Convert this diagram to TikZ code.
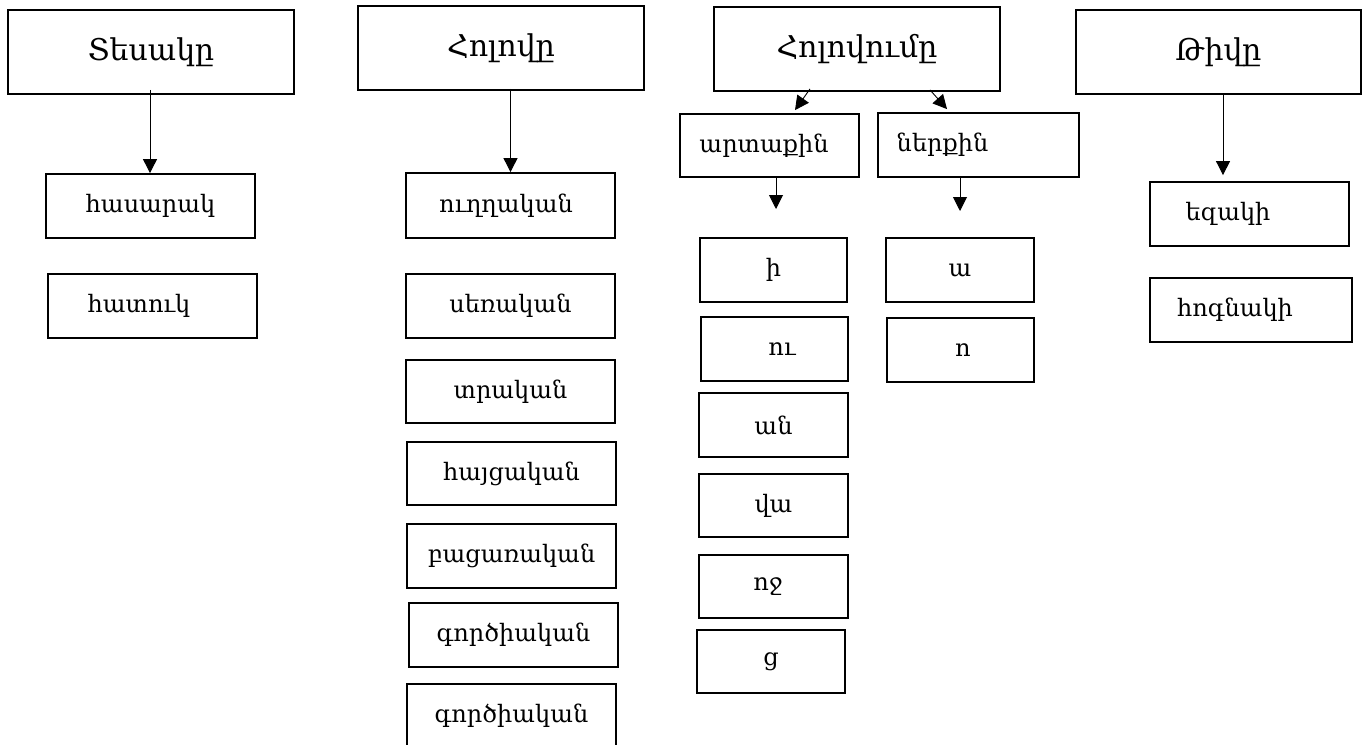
\documentclass[tikz,border=0pt]{standalone}
\usepackage{fontspec}
\setmainfont{DejaVu Serif}
\usetikzlibrary{arrows.meta}
\newcommand\mkbox[7][]{\node[box,#1,minimum width={#5pt-#3pt},minimum height={#6pt-#4pt}] (#2) at ({(#3+#5)/2},{(#4+#6)/2}) {#7};}
\tikzset{
  box/.style={draw, line width=1.8pt, inner sep=0pt, font=\fontsize{24}{26}\selectfont},
  title/.style={font=\fontsize{30}{32}\selectfont},
  arr/.style={line width=0.9pt, -{Triangle[width=14pt,length=14pt]}},
}
\begin{document}
\begin{tikzpicture}[x=1pt,y=-1pt]
\useasboundingbox (0,0) rectangle (1364,744);
\begin{scope}
\clip (0,0) rectangle (1364,744);
% titles
\mkbox[title]{t1}{8}{10}{294}{94}{Տեսակը}
\mkbox[title]{t2}{358}{6}{644}{90}{Հոլովը}
\mkbox[title]{t3}{714}{7}{1000}{91}{Հոլովումը}
\mkbox[title]{t4}{1076}{10}{1361}{94}{Թիվը}
% column 1
\mkbox{a1}{46}{174}{255}{238}{հասարակ}
\mkbox{a2}{48}{274}{257}{338}{հատուկ\hspace*{27pt}}
% column 2
\mkbox{b1}{406}{173}{615}{238}{ուղղական\hspace*{9pt}}
\mkbox{b2}{406}{274}{615}{338}{սեռական}
\mkbox{b3}{406}{360}{615}{423}{տրական}
\mkbox{b4}{407}{442}{616}{505}{հայցական}
\mkbox{b5}{407}{524}{616}{588}{բացառական}
\mkbox{b6}{409}{603}{618}{667}{գործիական}
\mkbox{b7}{407}{684}{616}{748}{\raisebox{3pt}{գործիական}}
% column 3
\mkbox{c1}{680}{114}{859}{177}{արտաքին\hspace*{11pt}}
\mkbox{c2}{878}{113}{1079}{177}{ներքին\hspace*{72pt}}
\mkbox{d1}{700}{238}{847}{302}{ի}
\mkbox{d2}{701}{317}{848}{381}{\hspace*{15pt}ու}
\mkbox{d3}{699}{393}{848}{457}{ան}
\mkbox{d4}{699}{474}{848}{537}{վա}
\mkbox{d5}{699}{555}{848}{618}{ոջ\hspace*{11pt}}
\mkbox{d6}{697}{630}{845}{693}{ց}
\mkbox{e1}{886}{238}{1034}{302}{ա}
\mkbox{e2}{887}{318}{1034}{382}{\hspace*{5pt}ո}
% column 4
\mkbox{f1}{1150}{182}{1349}{246}{եզակի\hspace*{43pt}}
\mkbox{f2}{1150}{278}{1352}{342}{հոգնակի\hspace*{32pt}}
\end{scope}
% connectors
\coordinate (c1end) at (776,209);
\coordinate (c2end) at (960,211);
\draw[arr] ([xshift=-1pt,yshift=5pt]t1.south) -- ([xshift=-0.5pt]a1.north);
\draw[arr] ([yshift=2pt]t2.south -| b1.north) -- (b1.north);
\draw[arr] ([xshift=4.5pt,yshift=0pt]t4.south) -- ([xshift=-26.5pt,yshift=6pt]f1.north);
\draw[arr] ([xshift=-47pt,yshift=3pt]t3.south) -- ([xshift=25.5pt,yshift=3pt]c1.north);
\draw[arr] ([xshift=73pt,yshift=2pt]t3.south) -- ([xshift=-31.5pt,yshift=3pt]c2.north);
\draw[arr] ([xshift=6.5pt]c1.south) -- (c1end);
\draw[arr] (c2.south -| c2end) -- (c2end);
\end{tikzpicture}
\end{document}
